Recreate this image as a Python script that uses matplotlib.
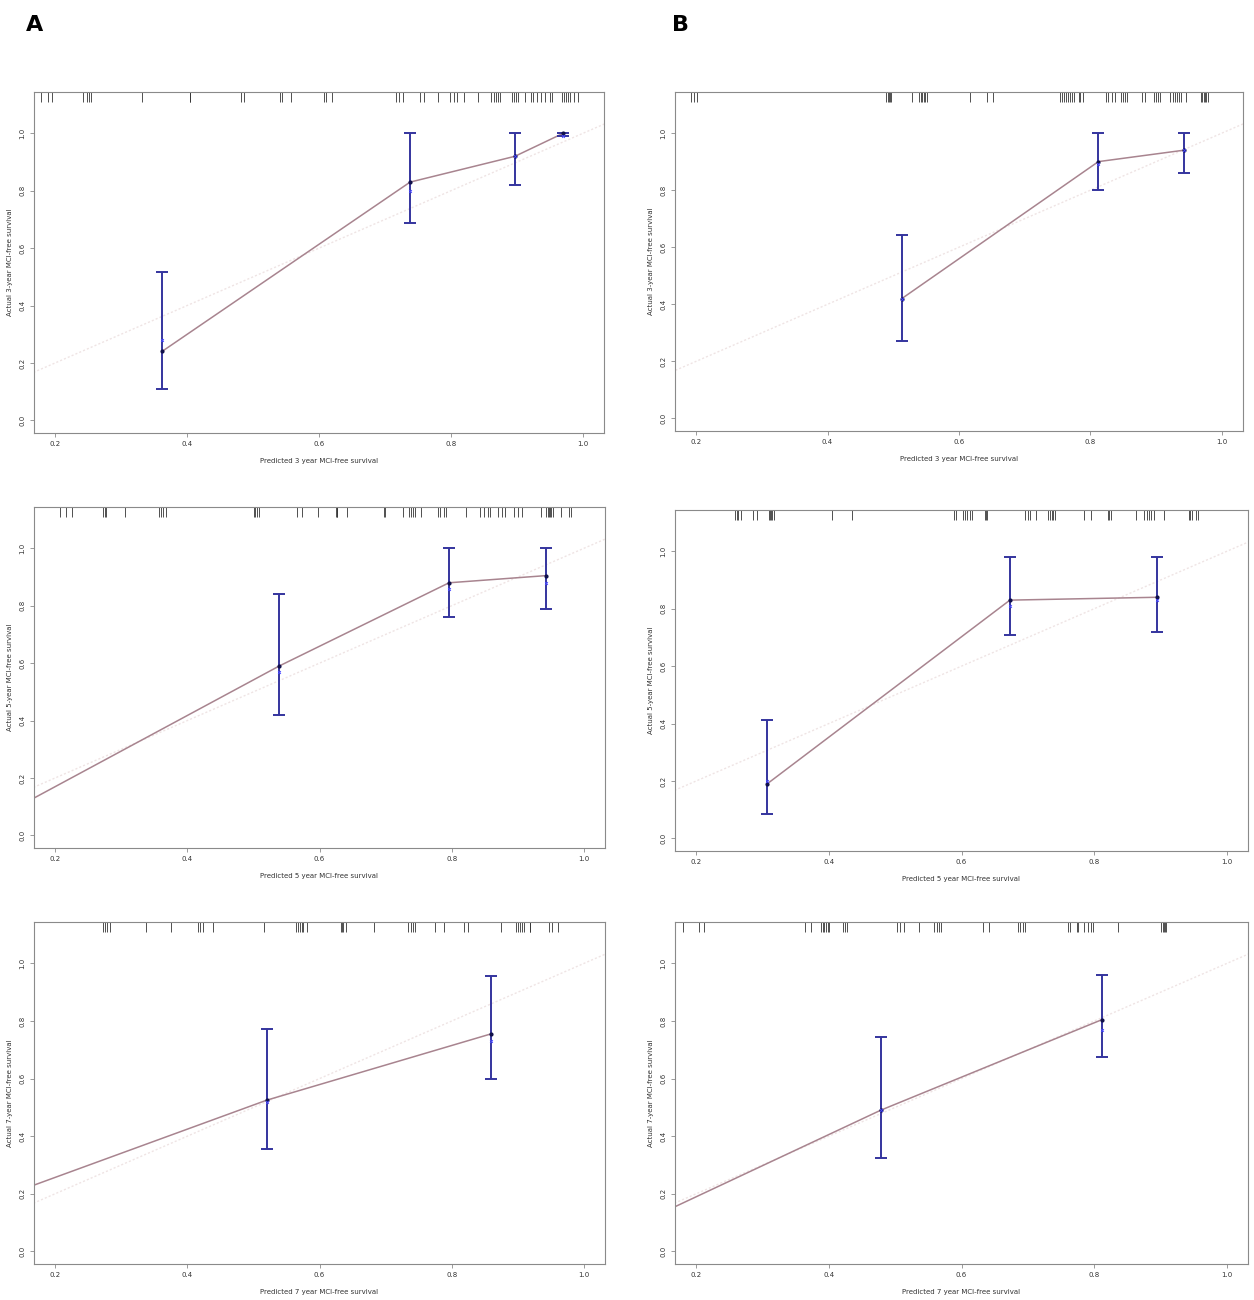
import numpy as np
import matplotlib
matplotlib.use("Agg")
import matplotlib.pyplot as plt

# ---- data ----
# 3-year, model A
pred_3A = [0.362, 0.738, 0.897, 0.970]
obs_3A = [0.24, 0.83, 0.92, 1.00]
lo_3A = [0.11, 0.686, 0.819, 0.99]
hi_3A = [0.516, 1.00, 1.00, 1.00]
corr_3A = [0.28, 0.80, 0.92, 0.99]
linex_3A = [0.362, 0.738, 0.897, 0.970]
liney_3A = [0.24, 0.83, 0.92, 1.00]
rug_3A = [0.179, 0.189, 0.196, 0.243, 0.249, 0.251, 0.255, 0.332, 0.404, 0.405,
          0.482, 0.487, 0.541, 0.544, 0.557, 0.607, 0.611, 0.620, 0.717, 0.722,
          0.727, 0.753, 0.759, 0.780, 0.799, 0.805, 0.809, 0.820, 0.841, 0.860,
          0.865, 0.868, 0.872, 0.875, 0.892, 0.895, 0.898, 0.901, 0.913, 0.922,
          0.925, 0.931, 0.937, 0.943, 0.950, 0.953, 0.968, 0.971, 0.974, 0.977,
          0.980, 0.987, 0.993]

# 3-year, model B
pred_3B = [0.513, 0.812, 0.942]
obs_3B = [0.42, 0.90, 0.94]
lo_3B = [0.27, 0.80, 0.86]
hi_3B = [0.642, 1.00, 1.00]
corr_3B = [0.42, 0.89, 0.94]
linex_3B = [0.513, 0.812, 0.942]
liney_3B = [0.42, 0.90, 0.94]
rug_3B = [0.193, 0.197, 0.201, 0.489, 0.492, 0.493, 0.495, 0.496, 0.529, 0.539,
          0.542, 0.544, 0.547, 0.549, 0.552, 0.617, 0.642, 0.652, 0.753, 0.757,
          0.760, 0.763, 0.766, 0.769, 0.772, 0.775, 0.782, 0.784, 0.789, 0.823,
          0.827, 0.832, 0.838, 0.847, 0.850, 0.853, 0.855, 0.878, 0.883, 0.897,
          0.900, 0.903, 0.906, 0.921, 0.925, 0.929, 0.932, 0.935, 0.938, 0.946,
          0.968, 0.970, 0.972, 0.974, 0.976, 0.978]

# 5-year, model A
pred_5A = [0.539, 0.796, 0.943]
obs_5A = [0.59, 0.88, 0.905]
lo_5A = [0.418, 0.76, 0.787]
hi_5A = [0.84, 1.00, 1.00]
corr_5A = [0.57, 0.86, 0.88]
linex_5A = [0.168, 0.539, 0.796, 0.943]
liney_5A = [0.13, 0.59, 0.88, 0.905]
rug_5A = [0.207, 0.217, 0.225, 0.273, 0.275, 0.277, 0.305, 0.357, 0.360, 0.363,
          0.367, 0.501, 0.503, 0.506, 0.509, 0.566, 0.574, 0.597, 0.625, 0.626,
          0.627, 0.642, 0.697, 0.699, 0.727, 0.735, 0.738, 0.741, 0.745, 0.753,
          0.780, 0.783, 0.789, 0.792, 0.821, 0.843, 0.849, 0.855, 0.858, 0.870,
          0.876, 0.880, 0.894, 0.900, 0.906, 0.935, 0.943, 0.946, 0.947, 0.949,
          0.951, 0.953, 0.965, 0.977, 0.981]

# 5-year, model B
pred_5B = [0.307, 0.673, 0.895]
obs_5B = [0.19, 0.83, 0.84]
lo_5B = [0.085, 0.71, 0.72]
hi_5B = [0.411, 0.98, 0.98]
corr_5B = [0.20, 0.81, 0.83]
linex_5B = [0.307, 0.673, 0.895]
liney_5B = [0.19, 0.83, 0.84]
rug_5B = [0.258, 0.261, 0.263, 0.267, 0.286, 0.292, 0.309, 0.311, 0.313, 0.315,
          0.318, 0.405, 0.435, 0.588, 0.591, 0.603, 0.606, 0.609, 0.613, 0.616,
          0.635, 0.637, 0.639, 0.696, 0.700, 0.704, 0.713, 0.731, 0.733, 0.736,
          0.738, 0.741, 0.784, 0.795, 0.821, 0.823, 0.826, 0.863, 0.875, 0.879,
          0.882, 0.886, 0.891, 0.906, 0.943, 0.945, 0.947, 0.953, 0.956]

# 7-year, model A
pred_7A = [0.520, 0.859]
obs_7A = [0.525, 0.755]
lo_7A = [0.355, 0.598]
hi_7A = [0.773, 0.955]
corr_7A = [0.52, 0.73]
linex_7A = [0.168, 0.520, 0.859]
liney_7A = [0.23, 0.525, 0.755]
rug_7A = [0.273, 0.275, 0.279, 0.283, 0.338, 0.376, 0.416, 0.419, 0.424, 0.439,
          0.516, 0.565, 0.568, 0.571, 0.573, 0.575, 0.581, 0.632, 0.634, 0.636,
          0.640, 0.683, 0.734, 0.738, 0.742, 0.745, 0.775, 0.789, 0.819, 0.825,
          0.874, 0.897, 0.900, 0.903, 0.906, 0.910, 0.918, 0.919, 0.947, 0.952,
          0.961]

# 7-year, model B
pred_7B = [0.478, 0.812]
obs_7B = [0.49, 0.805]
lo_7B = [0.325, 0.675]
hi_7B = [0.745, 0.96]
corr_7B = [0.49, 0.77]
linex_7B = [0.168, 0.478, 0.812]
liney_7B = [0.155, 0.49, 0.805]
rug_7B = [0.180, 0.204, 0.211, 0.364, 0.373, 0.388, 0.391, 0.393, 0.396, 0.398,
          0.400, 0.422, 0.424, 0.427, 0.503, 0.508, 0.514, 0.536, 0.558, 0.563,
          0.566, 0.569, 0.633, 0.642, 0.685, 0.688, 0.692, 0.696, 0.761, 0.764,
          0.774, 0.776, 0.784, 0.791, 0.795, 0.799, 0.836, 0.901, 0.904, 0.906,
          0.907, 0.909]

years = ["3", "5", "7"]

XLIM = (0.168, 1.032)
YLIM = (-0.044, 1.144)
BOX = "#8a8a8a"
OBS_COL = "#a8848f"
BAR_COL = "#34349e"
IDEAL_COL = "#efe4e4"


def draw_panel(ax, pred, obs, lo, hi, corr, linex, liney, rug, year):
    ax.set_xlim(*XLIM)
    ax.set_ylim(*YLIM)
    # ideal line
    ax.plot([0, 1.2], [0, 1.2], color=IDEAL_COL, lw=1.0, ls=(0, (1.5, 1.5)), zorder=1)
    # observed calibration line
    ax.plot(linex, liney, color=OBS_COL, lw=1.1, zorder=2)
    # error bars
    pred = np.array(pred)
    obs = np.array(obs)
    ax.errorbar(pred, obs, yerr=[obs - np.array(lo), np.array(hi) - obs],
                fmt="none", ecolor=BAR_COL, elinewidth=1.4, capsize=4.5,
                capthick=1.4, zorder=3)
    ax.plot(pred, obs, "o", ms=2.0, color="#10104a", zorder=4)
    ax.plot(pred, corr, "x", ms=2.0, mew=0.7, color="#4a4aff", zorder=4)
    # rug at top
    ax.vlines(rug, YLIM[1] - 0.035, YLIM[1], color="#333333", lw=0.6, zorder=2)

    ax.set_xticks([0.2, 0.4, 0.6, 0.8, 1.0])
    ax.set_xticklabels(["0.2", "0.4", "0.6", "0.8", "1.0"])
    ax.set_yticks([0.0, 0.2, 0.4, 0.6, 0.8, 1.0])
    ax.set_yticklabels(["0.0", "0.2", "0.4", "0.6", "0.8", "1.0"], rotation=90, va="center")
    ax.tick_params(axis="both", labelsize=5, length=3, width=0.6, color=BOX,
                   pad=3, labelcolor="#333333")
    for s in ax.spines.values():
        s.set_color(BOX)
        s.set_linewidth(0.8)
    ax.set_xlabel("Predicted %s year MCI-free survival" % year, fontsize=5,
                  color="#333333", labelpad=8)
    ax.set_ylabel("Actual %s-year MCI-free survival" % year, fontsize=5,
                  color="#333333", labelpad=5)


fig = plt.figure(figsize=(12.54, 13.0), dpi=100)
W, H = 1254.0, 1300.0


def add_ax(x0, x1, y0, y1):
    return fig.add_axes([x0 / W, 1 - y1 / H, (x1 - x0) / W, (y1 - y0) / H])


axA3 = add_ax(34, 604, 92, 433)
axB3 = add_ax(675, 1243, 92, 431)
axA5 = add_ax(34, 605, 507, 848)
axB5 = add_ax(675, 1248, 510, 851)
axA7 = add_ax(34, 605, 922, 1264)
axB7 = add_ax(675, 1248, 922, 1264)

draw_panel(axA3, pred_3A, obs_3A, lo_3A, hi_3A, corr_3A, linex_3A, liney_3A, rug_3A, years[0])
draw_panel(axB3, pred_3B, obs_3B, lo_3B, hi_3B, corr_3B, linex_3B, liney_3B, rug_3B, years[0])
draw_panel(axA5, pred_5A, obs_5A, lo_5A, hi_5A, corr_5A, linex_5A, liney_5A, rug_5A, years[1])
draw_panel(axB5, pred_5B, obs_5B, lo_5B, hi_5B, corr_5B, linex_5B, liney_5B, rug_5B, years[1])
draw_panel(axA7, pred_7A, obs_7A, lo_7A, hi_7A, corr_7A, linex_7A, liney_7A, rug_7A, years[2])
draw_panel(axB7, pred_7B, obs_7B, lo_7B, hi_7B, corr_7B, linex_7B, liney_7B, rug_7B, years[2])

fig.text(35 / W, 1 - 25 / H, "A", fontsize=16, fontweight="bold", ha="center", va="center")
fig.text(681 / W, 1 - 25 / H, "B", fontsize=16, fontweight="bold", ha="center", va="center")

fig.savefig("out.png", dpi=100)
